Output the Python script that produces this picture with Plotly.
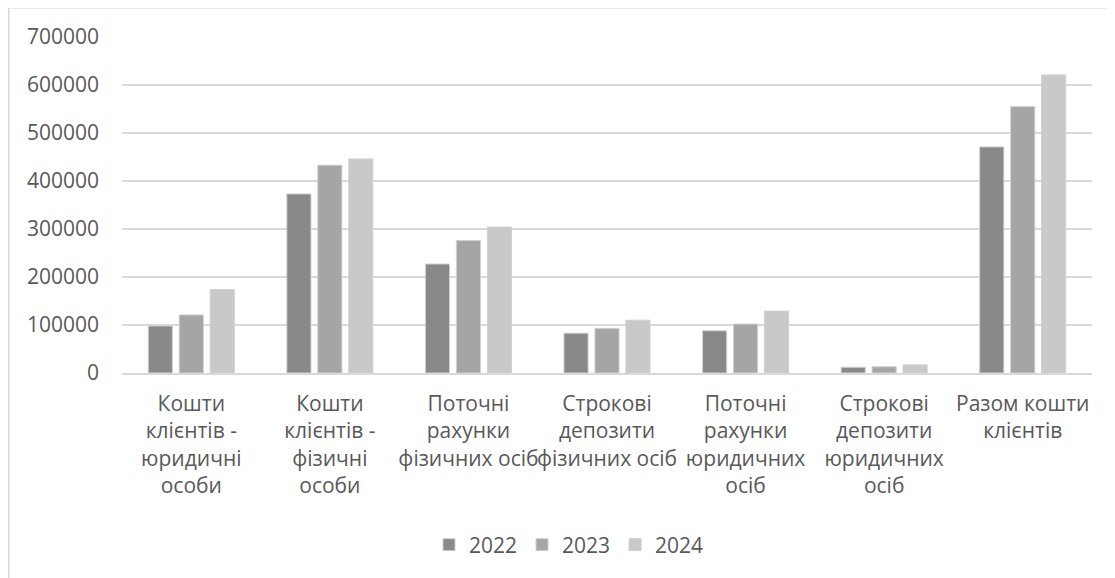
import plotly.graph_objects as go

categories = [
    "Кошти<br>клієнтів -<br>юридичні<br>особи",
    "Кошти<br>клієнтів -<br>фізичні<br>особи",
    "Поточні<br>рахунки<br>фізичних осіб",
    "Строкові<br>депозити<br>фізичних осіб",
    "Поточні<br>рахунки<br>юридичних<br>осіб",
    "Строкові<br>депозити<br>юридичних<br>осіб",
    "Разом кошти<br>клієнтів",
]
values_2022 = [98000, 373000, 227000, 83000, 88000, 12000, 471000]
values_2023 = [121000, 433000, 276000, 93000, 102000, 13000, 555000]
values_2024 = [174000, 446000, 304000, 110000, 129000, 17000, 621000]
series_names = ["2022", "2023", "2024"]
colors = ["#898989", "#a5a5a5", "#c9c9c9"]
y_ticks = [0, 100000, 200000, 300000, 400000, 500000, 600000, 700000]

FONT = "Open Sans"
TXT = "#595959"
FS = 21

fig = go.Figure()
for name, vals, col in zip(series_names, [values_2022, values_2023, values_2024], colors):
    fig.add_trace(go.Bar(
        x=categories, y=vals, name=name,
        marker=dict(color=col, line=dict(color="#d0d0d0", width=1)),
    ))

# page body has an 8px margin; figure sits at (8, 8)
OFF = 8
W, H = 1115 - OFF, 578 - OFF
L, R, T, B = 122 - OFF, 23, 37 - OFF, 205
pw, ph = W - L - R, H - T - B

def px_x(x):  # page pixel -> paper x
    return (x - OFF - L) / pw

def px_y(y):  # page pixel -> paper y
    return (H - B - (y - OFF)) / ph

fig.update_layout(
    width=W, height=H,
    margin=dict(l=L, r=R, t=T, b=B, pad=0),
    paper_bgcolor="white", plot_bgcolor="white",
    barmode="group", bargap=0.33, bargroupgap=0.22,
    font=dict(family=FONT, size=FS, color=TXT),
    showlegend=True,
    legend=dict(
        orientation="h", x=px_x(449 - 20), xanchor="left",
        y=px_y(545), yanchor="middle",
        font=dict(family=FONT, size=FS, color=TXT),
        itemwidth=30, tracegroupgap=0,
    ),
    xaxis=dict(
        showgrid=False, showline=True, linecolor="#d9d9d9", linewidth=1.5,
        ticks="", tickangle=0, ticklabelstandoff=11,
        tickfont=dict(family=FONT, size=FS, color=TXT),
    ),
    yaxis=dict(
        range=[0, 700000], tickvals=y_ticks,
        ticktext=[str(v) for v in y_ticks],
        showgrid=True, gridcolor="#d9d9d9", gridwidth=1.5,
        zeroline=False, showline=False, ticks="",
        ticklabelstandoff=22,
        tickfont=dict(family=FONT, size=FS, color=TXT),
    ),
    shapes=[
        dict(type="line", xref="paper", yref="paper",
             x0=px_x(8.75), x1=px_x(8.75), y0=px_y(578), y1=px_y(7.75),
             line=dict(color="#d9d9d9", width=1.5)),
        dict(type="line", xref="paper", yref="paper",
             x0=px_x(8), x1=px_x(1115), y0=px_y(7.75), y1=px_y(7.75),
             line=dict(color="#d9d9d9", width=1.5)),
    ],
)

fig.write_html("out.html")
